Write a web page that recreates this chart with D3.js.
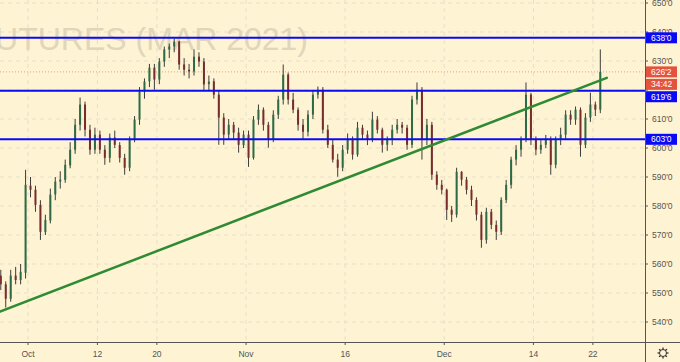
<!DOCTYPE html>
<html>
<head>
<meta charset="utf-8">
<script src="https://cdn.jsdelivr.net/npm/d3@7"></script>
<style>
  body { margin: 0; background: #fef3d3; }
  svg { display: block; }
  text { font-family: "Liberation Sans", Arial, sans-serif; }
</style>
</head>
<body>
<div id="viz"></div>
<script>
// ---- data ----
var priceTicks  = [540, 550, 560, 570, 580, 590, 600, 610, 620, 630, 640, 650];
var priceLabels = [540, 550, 560, 570, 580, 590, 600, 610, 630, 640, 650];   // 620'0 sits under the tags
var timeLabels = ["Oct", "12", "20", "Nov", "16", "Dec", "14", "22"];
var timeDates  = ["2020-10-01", "2020-10-12", "2020-10-20", "2020-11-02", "2020-11-16", "2020-12-01", "2020-12-14", "2020-12-22"];
var holidays   = ["2020-11-26"];
var levels     = [638, 619.75, 603];
var lastPrice  = 626.25;
var countdown  = "34:42";
var watermark  = "UTURES (MAR 2021)";
// trend line: [day index, price]
var trend = [[0.17, 543.6], [61.4, 624.2]];

// two bars per trading day, [open, high, low, close]
var bars = [
  [556, 558, 551, 553], [553, 554, 545, 548], [548, 558, 547, 556], [556, 559, 553, 554.5],
  [554.5, 560, 553, 557.3], [557, 592.5, 555, 587.3], [587, 590, 583, 585.6], [585.6, 587, 578, 580.4],
  [580.4, 582, 568.3, 571.1], [571, 577, 570, 575.2], [575, 586, 574, 583.9], [584, 590, 582, 588.4],
  [588.4, 592, 586, 589.1], [589, 596, 588, 594.2], [594, 602, 593, 599.4], [599.4, 610, 598, 608],
  [608, 617.4, 606, 615], [615, 616, 604, 606.3], [606.3, 608, 597.7, 599.4], [599.4, 607, 598, 604.6],
  [604.6, 606, 598, 599.4], [599.4, 601, 594.2, 596.6], [596.6, 605, 595, 603.6], [603.6, 606, 600, 601.1],
  [601, 602, 595, 596.6], [596.6, 598, 590.8, 593.2], [593.2, 604, 592, 602.9], [603, 611, 602, 609.8],
  [609.8, 621, 608, 619.5], [619.5, 624, 617, 622.9], [623, 629, 621, 627.7], [627.7, 629, 620.1, 623.6],
  [623.6, 631, 622, 629.8], [629.8, 635, 628, 634], [634, 636, 631, 635], [635, 637.8, 633, 636.7],
  [636.7, 637, 627, 628.8], [628.8, 631, 625, 627], [627, 629, 624, 626.4], [626.4, 634, 625, 631.5],
  [631.5, 633, 628, 629.8], [629.8, 631, 620, 621.9], [622, 625, 620, 622.9], [623, 624, 617, 618.4],
  [618.4, 620, 601.1, 610.5], [610.5, 612, 601.1, 604.6], [604.6, 610, 603, 608], [608, 609, 603, 605.3],
  [605.3, 607, 598.4, 601.1], [601, 606, 600, 604.6], [604.6, 606, 593.5, 596.6], [596.6, 611, 596, 609.8],
  [609.8, 615, 608, 613.2], [613.2, 614, 606, 608], [608, 609, 600.1, 602.9], [603, 613, 602, 611.5],
  [611.5, 618, 610, 616.7], [616.7, 628.8, 615, 625.3], [625.3, 626, 615, 616.7], [616.7, 619, 612, 613.2],
  [613.2, 614, 606, 608], [608, 610, 602.9, 605.6], [605.6, 613, 604, 611.5], [611.5, 620, 610, 618.4],
  [618.4, 621.2, 617, 620.1], [620.1, 621, 605, 606.3], [606.3, 608, 600, 601.1], [601.1, 603, 595, 596],
  [596, 598, 590.1, 593.2], [593.2, 601, 592, 599.4], [599.4, 605, 598, 602.9], [602.9, 604, 596, 597.7],
  [597.7, 609, 597, 607], [607, 608, 603, 604.6], [604.6, 606, 601, 602.9], [602.9, 612.5, 602, 609.8],
  [609.8, 611, 605, 606.3], [606.3, 607, 598.4, 601.1], [601.1, 604, 599, 602.9], [602.9, 608, 601, 606.3],
  [606.3, 610, 605, 608], [608, 609, 605, 607], [607, 608, 599.4, 601.1], [601.1, 618, 600, 616.7],
  [616.7, 622.6, 615, 620.1], [620.1, 621, 596, 602.9], [602.9, 610, 601, 608], [608, 609, 589, 590.8],
  [590.8, 592, 585.6, 587.3], [587.3, 589, 584, 585.6], [585.6, 586, 575.2, 578.7], [578.7, 580, 574.5, 577],
  [577, 593.2, 576, 591.8], [591.8, 592, 587, 589.1], [589.1, 590, 584, 585.6], [585.6, 587, 580, 582.1],
  [582.1, 583, 575, 577], [577, 578, 565.6, 568.3], [568.3, 579.4, 567, 578], [578, 579, 572, 573.5],
  [573.5, 575, 568.3, 571.1], [571.1, 583, 570, 582.1], [582.1, 589, 581, 587.3], [587.3, 597, 586, 596],
  [596, 601, 594, 599.4], [599.4, 604, 597, 602.9], [602.9, 622.6, 602, 618.4], [618.4, 619, 601, 602.9],
  [602.9, 604, 597.5, 599.4], [599.4, 603, 598, 601.1], [601.1, 604.5, 600, 602.9], [602.9, 604, 590.8, 594.2],
  [594.2, 604, 593, 602.9], [602.9, 607, 601, 604.6], [604.6, 613, 603, 611.5], [611.5, 613, 608, 609.8],
  [609.8, 614.3, 608, 613.2], [613.2, 614, 597, 601.1], [601.1, 612, 600, 610.5], [610.5, 619.1, 609, 615],
  [615, 616, 611, 613.2], [613.2, 634, 612, 626.25]
];

// ---- layout ----
var W = 680, H = 362;
var plotW = 645, plotH = 342;

// trading calendar (weekdays, minus holidays)
var parse = d3.timeParse("%Y-%m-%d"), fmtDay = d3.timeFormat("%Y-%m-%d");
var days = d3.timeDays(parse("2020-09-28"), parse("2020-12-24"))
  .filter(function(d) { return d.getDay() > 0 && d.getDay() < 6 && holidays.indexOf(fmtDay(d)) < 0; })
  .map(fmtDay);

var x = d3.scaleLinear().domain([0.17, 65.26]).range([0, plotW]);   // day units
var y = d3.scaleLinear().domain([540, 650]).range([322, 3]);

function fmtPrice(p) {
  var w = Math.floor(p), f = Math.round((p - w) * 8);
  return w + "'" + f;
}

var svg = d3.select("#viz").append("svg")
  .attr("width", W).attr("height", H);

svg.append("rect").attr("width", W).attr("height", H).attr("fill", "#fef3d3");

svg.append("clipPath").attr("id", "plot")
  .append("rect").attr("width", plotW).attr("height", plotH);

var plot = svg.append("g").attr("clip-path", "url(#plot)");

// grid
plot.selectAll(".hgrid").data(priceTicks).enter().append("line")
  .attr("x1", 0).attr("x2", plotW)
  .attr("y1", function(d) { return y(d); }).attr("y2", function(d) { return y(d); })
  .attr("stroke", "#e6dfca").attr("stroke-dasharray", "4,4");

plot.selectAll(".vgrid").data(timeDates).enter().append("line")
  .attr("x1", function(d) { return x(days.indexOf(d)); })
  .attr("x2", function(d) { return x(days.indexOf(d)); })
  .attr("y1", 0).attr("y2", plotH)
  .attr("stroke", "#e6dfca").attr("stroke-dasharray", "4,4");

// watermark
plot.append("text")
  .attr("x", 308).attr("y", 50)
  .attr("text-anchor", "end")
  .attr("font-size", 32)
  .attr("fill", "#e0d6ba")
  .text(watermark);

// current price dotted line
plot.append("line")
  .attr("x1", 0).attr("x2", plotW)
  .attr("y1", y(lastPrice)).attr("y2", y(lastPrice))
  .attr("stroke", "#ef9a80").attr("stroke-dasharray", "1,2");

// candles
var candle = plot.selectAll(".candle").data(bars).enter().append("g");

candle.append("line")
  .attr("x1", function(d, i) { return x((i + 0.5) / 2); })
  .attr("x2", function(d, i) { return x((i + 0.5) / 2); })
  .attr("y1", function(d) { return y(d[1]); })
  .attr("y2", function(d) { return y(d[2]); })
  .attr("stroke", "#3c3c3c")
  .attr("stroke-width", 1);

candle.append("rect")
  .attr("x", function(d, i) { return x((i + 0.5) / 2) - 1; })
  .attr("width", 2)
  .attr("y", function(d) { return y(Math.max(d[0], d[3])); })
  .attr("height", function(d) { return Math.max(1, Math.abs(y(d[0]) - y(d[3]))); })
  .attr("fill", function(d) { return d[3] >= d[0] ? "#2d6b46" : "#7a2b2b"; });

// horizontal levels
plot.selectAll(".level").data(levels).enter().append("line")
  .attr("x1", 0).attr("x2", plotW)
  .attr("y1", function(d) { return y(d); }).attr("y2", function(d) { return y(d); })
  .attr("stroke", "#0a0af5").attr("stroke-width", 2);

// trend line
plot.append("line")
  .attr("x1", x(trend[0][0])).attr("y1", y(trend[0][1]))
  .attr("x2", x(trend[1][0])).attr("y2", y(trend[1][1]))
  .attr("stroke", "#2e8b34").attr("stroke-width", 2.5)
  .attr("stroke-linecap", "round");

// price tags (centre y, label, colour); the 619'6 tag is pushed down below the countdown
var tags = [
  [y(levels[0]), fmtPrice(levels[0]), "#0a0af5"],
  [y(lastPrice), fmtPrice(lastPrice), "#e2543f"],
  [y(lastPrice) + 12.5, countdown, "#e2543f"],
  [y(levels[1]) + 6, fmtPrice(levels[1]), "#0a0af5"],
  [y(levels[2]), fmtPrice(levels[2]), "#0a0af5"]
];

// price axis
var yAxis = svg.append("g");
yAxis.selectAll(".tick").data(priceTicks).enter().append("line")
  .attr("x1", plotW).attr("x2", plotW + 3)
  .attr("y1", function(d) { return y(d); }).attr("y2", function(d) { return y(d); })
  .attr("stroke", "#555");
yAxis.selectAll(".label").data(priceLabels).enter().append("text")
  .attr("x", plotW + 7).attr("y", function(d) { return y(d) + 3; })
  .attr("font-size", 8.5).attr("fill", "#555")
  .text(fmtPrice);

// time axis
var xAxis = svg.append("g");
xAxis.selectAll(".tick").data(timeDates).enter().append("line")
  .attr("x1", function(d) { return x(days.indexOf(d)); })
  .attr("x2", function(d) { return x(days.indexOf(d)); })
  .attr("y1", plotH).attr("y2", plotH + 3)
  .attr("stroke", "#555");
xAxis.selectAll(".label").data(timeDates).enter().append("text")
  .attr("x", function(d) { return x(days.indexOf(d)); })
  .attr("y", plotH + 15)
  .attr("text-anchor", "middle")
  .attr("font-size", 8.5).attr("fill", "#555")
  .text(function(d, i) { return timeLabels[i]; });

// axis lines
svg.append("line").attr("x1", plotW + 0.5).attr("x2", plotW + 0.5).attr("y1", 0).attr("y2", H)
  .attr("stroke", "#555");
svg.append("line").attr("x1", 0).attr("x2", W).attr("y1", plotH + 0.5).attr("y2", plotH + 0.5)
  .attr("stroke", "#555");

tags.forEach(function(t) {
  svg.append("rect").attr("x", plotW + 1).attr("y", t[0] - 5.5)
    .attr("width", 31).attr("height", 11).attr("fill", t[2]);
  svg.append("text").attr("x", plotW + 6).attr("y", t[0] + 3)
    .attr("font-size", 8.5).attr("fill", "#fff").text(t[1]);
});

// settings gear
var gear = svg.append("g").attr("transform", "translate(663,353)");
gear.append("circle").attr("r", 3.5).attr("fill", "none").attr("stroke", "#333");
d3.range(8).forEach(function(k) {
  var a = k * Math.PI / 4;
  gear.append("line")
    .attr("x1", 3.5 * Math.cos(a)).attr("y1", 3.5 * Math.sin(a))
    .attr("x2", 5.5 * Math.cos(a)).attr("y2", 5.5 * Math.sin(a))
    .attr("stroke", "#333").attr("stroke-width", 1.3);
});
</script>
</body>
</html>
